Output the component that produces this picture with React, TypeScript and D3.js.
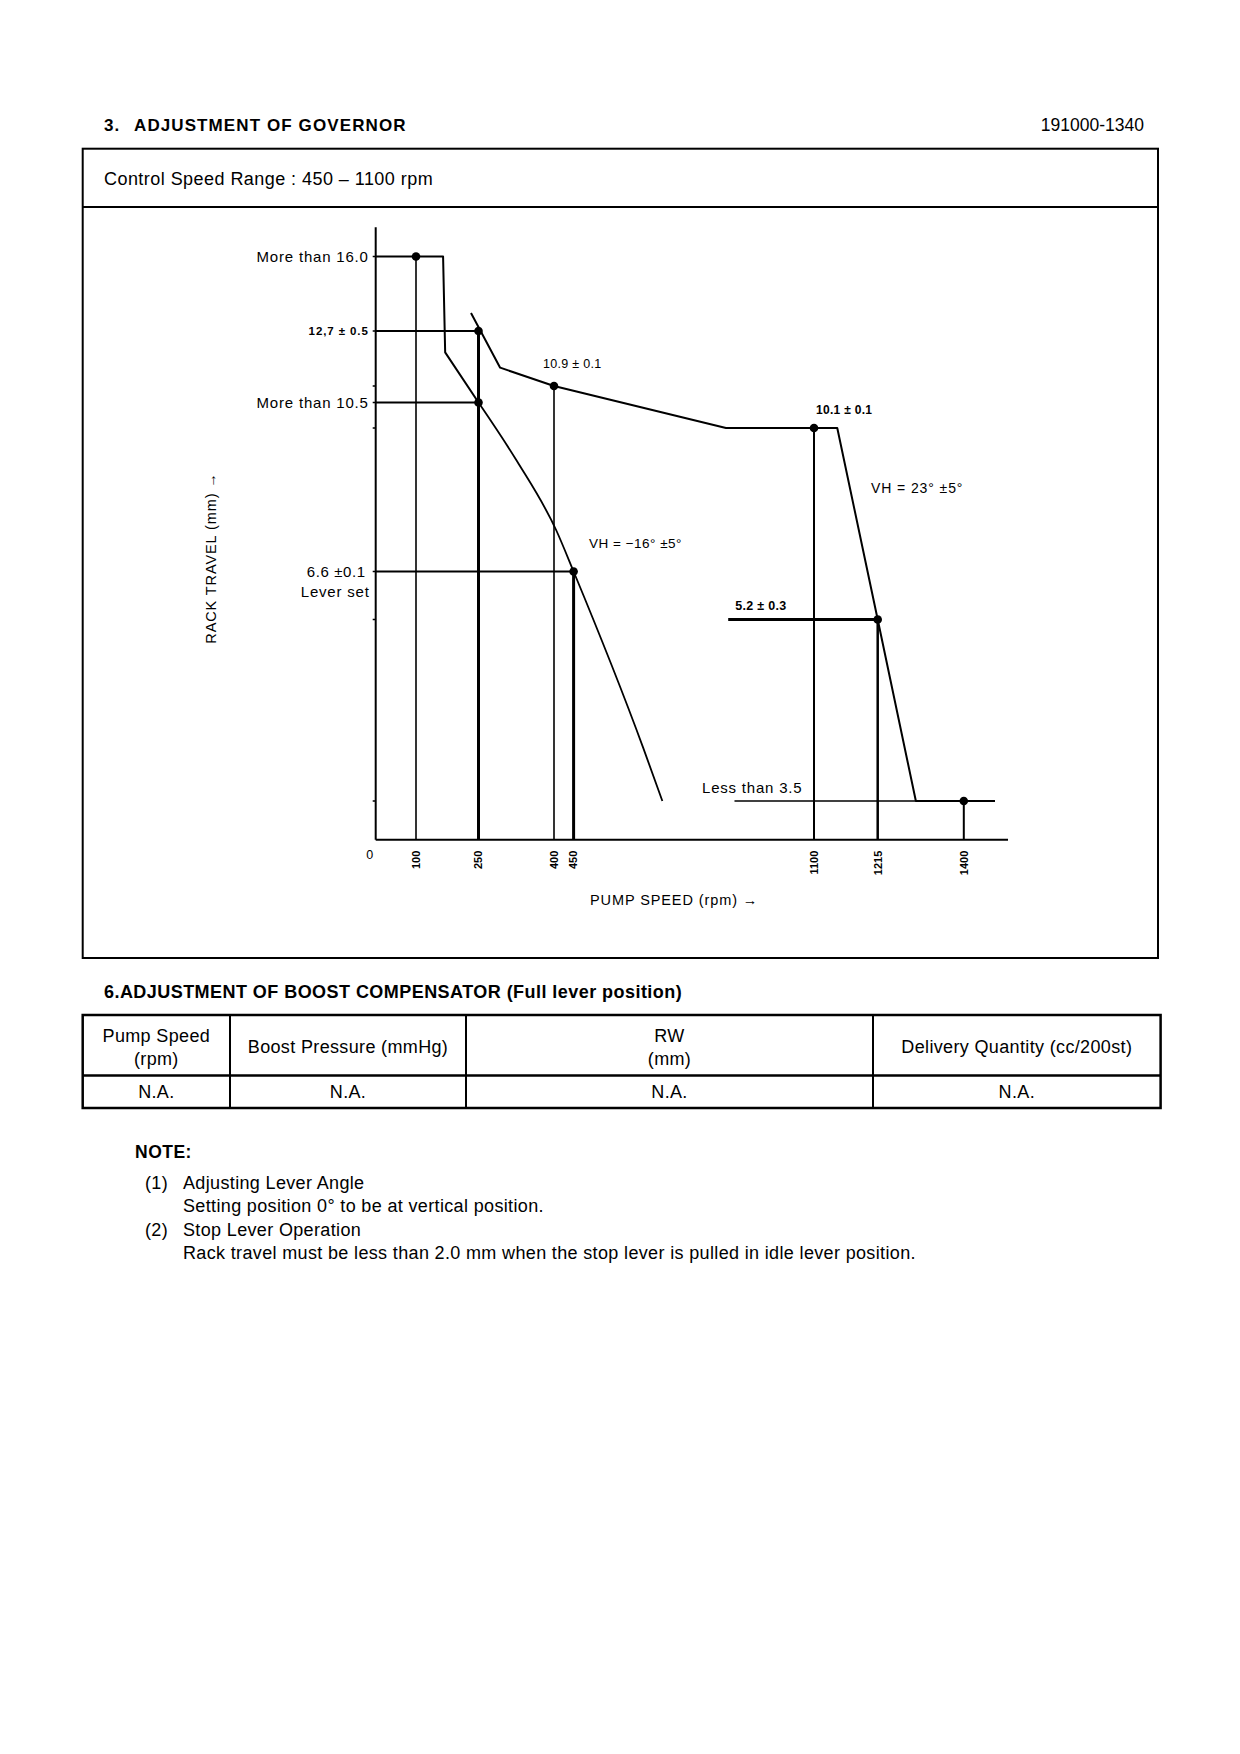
import React from "react";
import * as d3 from "d3";

type Pt = { rpm: number; mm: number };

// pump speed marks written under the axis (rpm)
const speedTicks = [100, 250, 400, 450, 1100, 1215, 1400];
// rack travel levels named on the drawing (mm)
const travelLevels = [0, 3.5, 5.2, 6.6, 10.1, 10.5, 10.9, 12.7, 16.0];

// start side: 16.0 plateau, step, then the lever-set curve
const idleStep: Pt[] = [
  { rpm: 0, mm: 16.0 },
  { rpm: 165, mm: 16.0 },
  { rpm: 170, mm: 12.0 },
  { rpm: 250, mm: 10.5 },
];
const idleCurve: Pt[] = [
  { rpm: 250, mm: 10.5 },
  { rpm: 326, mm: 9.3 },
  { rpm: 406, mm: 7.6 },
  { rpm: 450, mm: 6.6 },
  { rpm: 638, mm: 4.0 },
  { rpm: 690, mm: 3.5 },
];
// full load line with the governor cut-off
const fullLoad: Pt[] = [
  { rpm: 232, mm: 13.5 },
  { rpm: 293, mm: 11.5 },
  { rpm: 400, mm: 10.9 },
  { rpm: 862, mm: 10.1 },
  { rpm: 1142, mm: 10.1 },
  { rpm: 1215, mm: 5.2 },
  { rpm: 1297, mm: 3.5 },
  { rpm: 1467, mm: 3.5 },
];
// measuring points, each dropped to the speed axis
const checkPoints: Pt[] = [
  { rpm: 100, mm: 16.0 },
  { rpm: 250, mm: 12.7 },
  { rpm: 400, mm: 10.9 },
  { rpm: 450, mm: 6.6 },
  { rpm: 1100, mm: 10.1 },
  { rpm: 1215, mm: 5.2 },
  { rpm: 1400, mm: 3.5 },
];
const extraDots: Pt[] = [{ rpm: 250, mm: 10.5 }];
// horizontal set lines
const setLines = [
  { mm: 12.7, from: 0, to: 250 },
  { mm: 10.5, from: 0, to: 250 },
  { mm: 6.6, from: 0, to: 450 },
  { mm: 5.2, from: 868, to: 1215 },
  { mm: 3.5, from: 885, to: 1297 },
];

// boost compensator table
const tableHead = [["Pump Speed", "(rpm)"], ["Boost Pressure (mmHg)"], ["RW", "(mm)"], ["Delivery Quantity (cc/200st)"]];
const tableRow = ["N.A.", "N.A.", "N.A.", "N.A."];

const notes = [
  ["(1)", "Adjusting Lever Angle"],
  ["", "Setting position 0° to be at vertical position."],
  ["(2)", "Stop Lever Operation"],
  ["", "Rack travel must be less than 2.0 mm when the stop lever is pulled in idle lever position."],
];

const W = 1240;
const H = 1754;
const font = "'Liberation Sans', Arial, Helvetica, sans-serif";

export default function App() {
  // the drawing is schematic, so both scales are piecewise linear
  const x = d3
    .scaleLinear()
    .domain([0, ...speedTicks])
    .range([375.7, 416, 478.5, 554, 573.6, 814, 877.7, 963.8]);
  const y = d3
    .scaleLinear()
    .domain(travelLevels)
    .range([839.7, 801, 619.5, 571.5, 428, 402.5, 386, 331, 256.5]);

  const line = d3
    .line<Pt>()
    .x(d => x(d.rpm))
    .y(d => y(d.mm));
  const smooth = d3
    .line<Pt>()
    .x(d => x(d.rpm))
    .y(d => y(d.mm))
    .curve(d3.curveMonotoneX);

  const heavy = new Set([250, 450]);
  const x0 = x(0);
  const yBase = y(0);

  const cols = [82.7, 230, 466, 873, 1160.6];
  const body = { fontSize: 18, letterSpacing: 0.35 };

  return (
    <div style={{ position: "absolute", left: 0, top: 0, background: "#fff" }}>
      <svg width={W} height={H} fontFamily={font} style={{ display: "block" }}>
        <rect width={W} height={H} fill="#fff" />

        {/* header */}
        <text x={104} y={131} fontSize={17} fontWeight="bold" letterSpacing={1}>3.</text>
        <text x={134} y={131} fontSize={17} fontWeight="bold" letterSpacing={1.1}>ADJUSTMENT OF GOVERNOR</text>
        <text x={1144} y={131} fontSize={17.5} textAnchor="end">191000-1340</text>

        <rect x={82.7} y={148.7} width={1075.3} height={809.3} fill="none" stroke="#000" strokeWidth={2} />
        <line x1={82.7} x2={1158} y1={207} y2={207} stroke="#000" strokeWidth={2} />
        <text x={104} y={184.5} fontSize={18} letterSpacing={0.45}>Control Speed Range : 450 – 1100 rpm</text>

        {/* axes */}
        <g stroke="#000" fill="none">
          <line x1={x0} x2={x0} y1={y(17.3)} y2={yBase} strokeWidth={2} />
          <line x1={x0} x2={x(1495)} y1={yBase} y2={yBase} strokeWidth={2} />
          {travelLevels.slice(1).map(v => (
            <line key={v} x1={x0 - 3} x2={x0} y1={y(v)} y2={y(v)} strokeWidth={1.5} />
          ))}
        </g>

        {/* set lines and drop lines */}
        <g stroke="#000" fill="none">
          {setLines.map(s => (
            <line
              key={s.mm}
              x1={x(s.from)}
              x2={x(s.to)}
              y1={y(s.mm)}
              y2={y(s.mm)}
              strokeWidth={s.mm === 5.2 ? 3 : s.mm === 3.5 ? 1.3 : 2}
            />
          ))}
          {checkPoints.map(p => (
            <line
              key={p.rpm}
              x1={x(p.rpm)}
              x2={x(p.rpm)}
              y1={y(p.mm)}
              y2={yBase}
              strokeWidth={heavy.has(p.rpm) ? 3 : p.rpm === 1215 ? 2.5 : p.rpm === 100 || p.rpm === 400 ? 1.6 : 2}
            />
          ))}
        </g>

        {/* curves */}
        <g stroke="#000" fill="none" strokeWidth={2} strokeLinejoin="round">
          <path d={line(idleStep) ?? ""} />
          <path d={smooth(idleCurve) ?? ""} strokeWidth={1.8} />
          <path d={line(fullLoad) ?? ""} />
        </g>

        {/* points */}
        <g fill="#000">
          {[...checkPoints, ...extraDots].map(p => (
            <circle key={`${p.rpm}-${p.mm}`} cx={x(p.rpm)} cy={y(p.mm)} r={4.3} />
          ))}
        </g>

        {/* level labels */}
        <g fontSize={15} letterSpacing={0.8}>
          <text x={x0 - 7} y={y(16.0) + 5} textAnchor="end">More than 16.0</text>
          <text x={x0 - 7} y={y(12.7) + 4} textAnchor="end" fontSize={11.5} fontWeight="bold" letterSpacing={0.9}>12,7 ± 0.5</text>
          <text x={x0 - 7} y={y(10.5) + 5} textAnchor="end">More than 10.5</text>
          <text x={x0 - 10} y={y(6.6) + 5} textAnchor="end" letterSpacing={0.6}>6.6 ±0.1</text>
          <text x={x0 - 6} y={y(6.6) + 25} textAnchor="end">Lever set</text>
          <text x={x(400) - 11} y={y(10.9) - 18} fontSize={12.5} letterSpacing={0.3}>10.9 ± 0.1</text>
          <text x={x(1100) + 2} y={y(10.1) - 14} fontSize={12} fontWeight="bold" letterSpacing={0.3}>10.1 ± 0.1</text>
          <text x={871} y={493} fontSize={14} letterSpacing={0.9}>VH = 23° ±5°</text>
          <text x={589} y={548} fontSize={13.5} letterSpacing={0.5}>VH = −16° ±5°</text>
          <text x={x(868) + 7} y={y(5.2) - 10} fontSize={12.5} fontWeight="bold" letterSpacing={0.3}>5.2 ± 0.3</text>
          <text x={702} y={y(3.5) - 8}>Less than 3.5</text>
        </g>

        {/* speed labels */}
        <text x={x0 - 6} y={yBase + 19} fontSize={12.5} textAnchor="middle">0</text>
        {speedTicks.map(t => (
          <text
            key={t}
            transform={`translate(${x(t)},${yBase + 11}) rotate(-90)`}
            textAnchor="end"
            dy="0.35em"
            fontSize={11}
            fontWeight="bold"
          >
            {t}
          </text>
        ))}
        <text x={590} y={905} fontSize={14.5} letterSpacing={0.9}>PUMP SPEED (rpm) →</text>
        <text transform="translate(216,558) rotate(-90)" textAnchor="middle" fontSize={14.5} letterSpacing={0.9}>
          RACK TRAVEL (mm) →
        </text>

        {/* boost compensator */}
        <text x={104} y={998} fontSize={18} fontWeight="bold" letterSpacing={0.45}>
          6.ADJUSTMENT OF BOOST COMPENSATOR (Full lever position)
        </text>
        <g stroke="#000" fill="none">
          <rect x={cols[0]} y={1015} width={cols[4] - cols[0]} height={93} strokeWidth={2.5} />
          <line x1={cols[0]} x2={cols[4]} y1={1075.5} y2={1075.5} strokeWidth={2.5} />
          {cols.slice(1, 4).map(c => (
            <line key={c} x1={c} x2={c} y1={1015} y2={1108} strokeWidth={2} />
          ))}
        </g>
        {tableHead.map((lines, i) => {
          const cx = (cols[i] + cols[i + 1]) / 2;
          return lines.length === 2 ? (
            <g key={i} {...body} textAnchor="middle">
              <text x={cx} y={1042}>{lines[0]}</text>
              <text x={cx} y={1065}>{lines[1]}</text>
            </g>
          ) : (
            <text key={i} x={cx} y={1052.5} {...body} textAnchor="middle">{lines[0]}</text>
          );
        })}
        {tableRow.map((v, i) => (
          <text key={i} x={(cols[i] + cols[i + 1]) / 2} y={1098} {...body} textAnchor="middle">{v}</text>
        ))}

        {/* notes */}
        <text x={135} y={1158} fontSize={17.5} fontWeight="bold" letterSpacing={0.5}>NOTE:</text>
        {notes.map((n, i) => (
          <g key={i} {...body}>
            {n[0] && <text x={145} y={1189 + i * 23.4}>{n[0]}</text>}
            <text x={183} y={1189 + i * 23.4}>{n[1]}</text>
          </g>
        ))}
      </svg>
    </div>
  );
}
